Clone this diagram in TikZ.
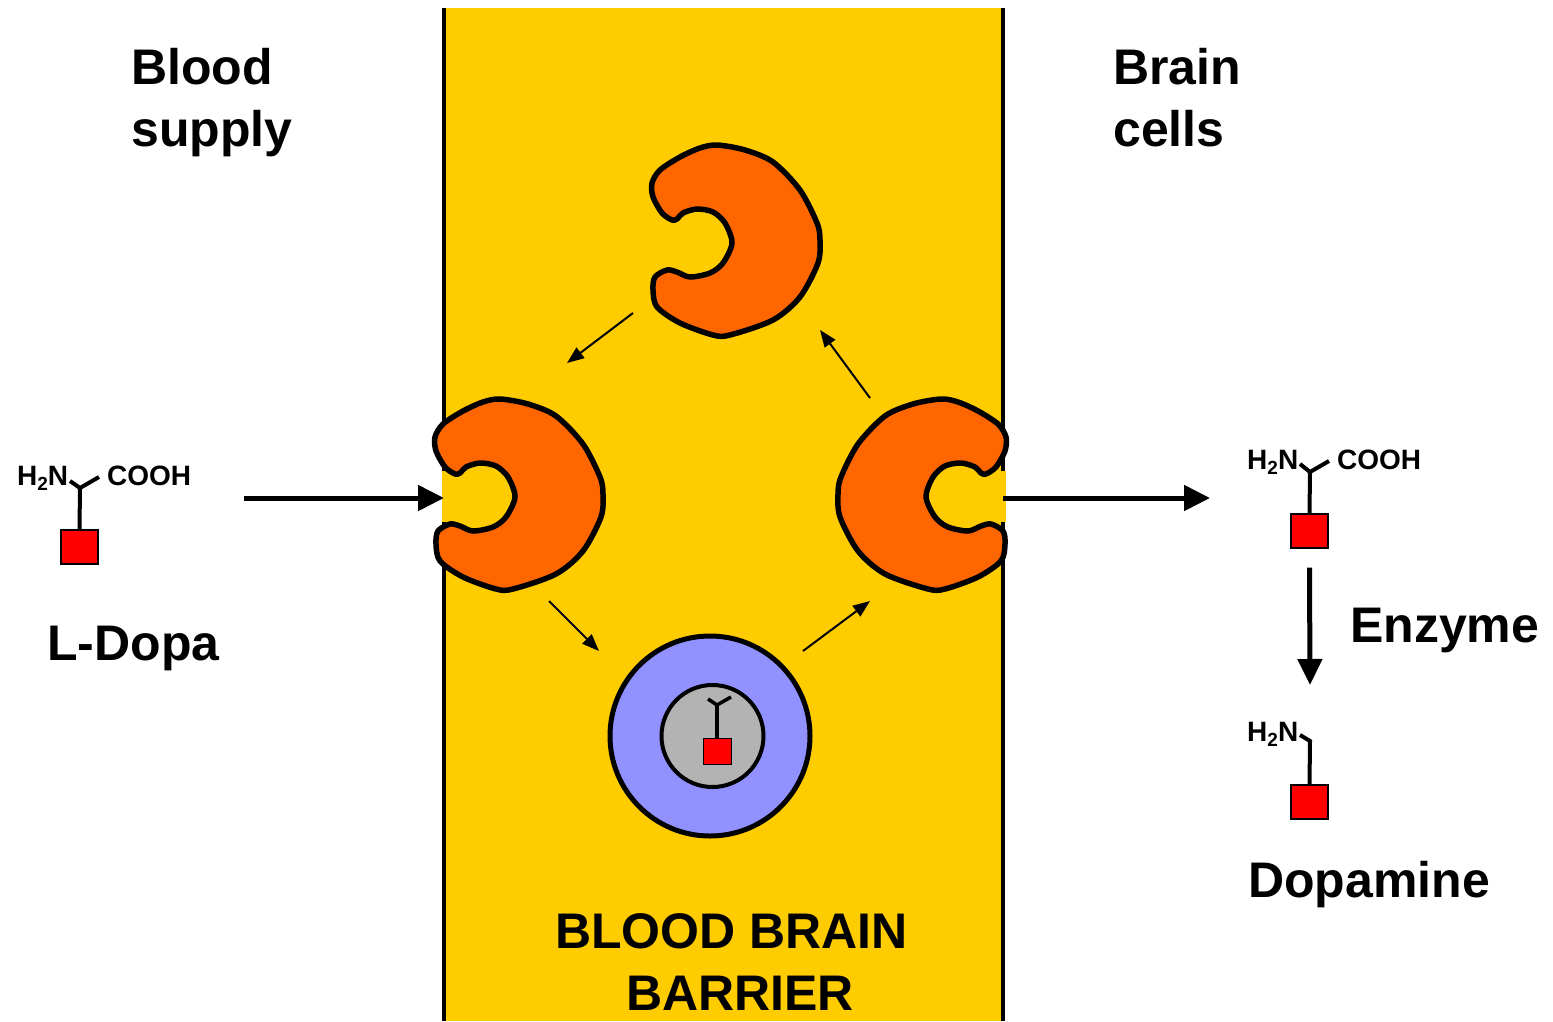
\documentclass[tikz,border=0pt]{standalone}
\usepackage{fontspec}
\setmainfont{Liberation Sans}
\usetikzlibrary{arrows.meta}
\definecolor{barrierfill}{HTML}{FFCC00}
\definecolor{carrierfill}{HTML}{FF6600}
\definecolor{vesiclefill}{HTML}{9191FF}
\definecolor{corefill}{HTML}{B3B3B3}
\definecolor{ringfill}{HTML}{FF0000}
\newcommand\subtwo{\raisebox{-5pt}{\fontsize{19}{19}\selectfont 2}}
\begin{document}
\begin{tikzpicture}[x=1pt,y=-1pt,
  biglabel/.style={font=\fontsize{50}{62}\selectfont\bfseries, inner sep=0pt, anchor=base west},
  chem/.style={font=\fontsize{28}{30}\selectfont\bfseries, inner sep=0pt, anchor=base west},
  bond/.style={line width=4pt, line cap=butt, line join=miter},
  ringbox/.style={draw, fill=ringfill, line width=1.2pt, minimum width=37pt, minimum height=34pt, inner sep=0pt},
  wall/.style={line width=4.5pt},
  mainarrow/.style={line width=5pt, -{Triangle[length=26pt,width=25pt]}},
  cyclearrow/.style={line width=2pt, -{Triangle[length=17pt,width=13pt]}},
  carrier/.pic={
    \draw[line width=5.5pt, fill=carrierfill, line join=round]
      plot[smooth cycle, tension=0.5] coordinates {
        (12,-97) (40,-92) (68,-80) (95,-52) (112,-19) (115,-2) (113,21)
        (95,55) (68,78) (25,93) (8,93) (-25,81) (-48,65) (-52,48) (-50,35)
        (-38,28) (-28,30) (-15,35) (5,31) (18,21) (27,1) (20,-19) (8,-30)
        (-8,-33) (-22,-29) (-28,-23) (-33,-22) (-43,-29) (-52,-45) (-53,-59)
        (-45,-72) (-25,-85) (-5,-94)};
  }]
\useasboundingbox (0,0) rectangle (1553,1021);

% the barrier band and its two walls
\fill[barrierfill] (444,8) rectangle (1003,1021);
\draw[wall] (444,8) -- (444,1021);
\draw[wall] (1003,8) -- (1003,1021);
% open the walls inside the carrier mouths
\fill[barrierfill] (441.5,471) rectangle (446.5,522);
\fill[barrierfill] (1000.5,471) rectangle (1005.5,522);

% side headings
\node[biglabel] (blood1) at (131,84) {Blood};
\node[biglabel] (blood2) at (131,146) {supply};
\node[biglabel] (brain1) at (1113,84) {Brain};
\node[biglabel] (brain2) at (1113,146) {cells};

% carriers
\pic (carTop) at (705,242) {carrier};
\pic (carLeft) at (488,496) {carrier};
\pic[xscale=-1] (carRight) at (953,496) {carrier};

% vesicle with the drug inside
\node[circle, draw, line width=5pt, fill=vesiclefill, minimum size=200pt, inner sep=0pt] (vesicle) at (710,736) {};
\node[circle, draw, line width=4pt, fill=corefill, minimum size=102pt, inner sep=0pt] (core) at (712.5,736) {};
\node[ringbox, line width=1pt, minimum width=28pt, minimum height=26pt] (vRing) at (717,751) {};
\coordinate (vC) at (717,705);
\coordinate (vA) at (708,699);
\coordinate (vB) at (731,697);
\draw[line width=3.5pt] (vA) -- (vC) -- (vB);
\draw[line width=3.5pt] (vC) -- (vRing.north);

% carrier cycle arrows
\coordinate (c1s) at (633,313); \coordinate (c1e) at (567,363);
\coordinate (c2s) at (549,601); \coordinate (c2e) at (599,651);
\coordinate (c3s) at (803,651); \coordinate (c3e) at (870,601);
\coordinate (c4s) at (870,398); \coordinate (c4e) at (820,330);
\draw[cyclearrow] (c1s) -- (c1e);
\draw[cyclearrow] (c2s) -- (c2e);
\draw[cyclearrow] (c3s) -- (c3e);
\draw[cyclearrow] (c4s) -- (c4e);

% L-Dopa in the blood
\node[chem] (ldAmine) at (17,485) {H\subtwo N};
\node[chem] (ldAcid) at (107,485) {COOH};
\node[ringbox] (ldRing) at (79.5,547) {};
\coordinate (ldC) at (80,488);
\coordinate (ldA) at (70,481);
\coordinate (ldB) at (99,477);
\draw[bond] (ldA) -- (ldC) -- (ldB);
\draw[bond] (ldC) -- (ldRing.north);
\node[biglabel] (ldName) at (47,660) {L-Dopa};

% transport arrows
\coordinate (inStart) at (244,498);
\coordinate (inEnd) at (444,498);
\coordinate (outStart) at (1003,498);
\coordinate (outEnd) at (1210,498);
\draw[mainarrow] (inStart) -- (inEnd);
\draw[mainarrow] (outStart) -- (outEnd);

% L-Dopa in the brain
\node[chem] (bdAmine) at (1247,469) {H\subtwo N};
\node[chem] (bdAcid) at (1337,469) {COOH};
\node[ringbox] (bdRing) at (1309.5,531) {};
\coordinate (bdC) at (1310,472);
\coordinate (bdA) at (1300,464);
\coordinate (bdB) at (1329,461);
\draw[bond] (bdA) -- (bdC) -- (bdB);
\draw[bond] (bdC) -- (bdRing.north);

% conversion step
\draw[line width=5pt, -{Triangle[length=26pt,width=24pt]}] (bdRing.south) ++(0,19) coordinate (enzStart) -- (1310,685) coordinate (enzEnd);
\node[biglabel] (enzName) at (1350,642) {Enzyme};

% dopamine
\node[chem] (dpAmine) at (1247,741) {H\subtwo N};
\node[ringbox] (dpRing) at (1309.5,802) {};
\coordinate (dpA) at (1300,735);
\coordinate (dpC) at (1310,741);
\draw[bond] (dpA) -- (dpC) -- (dpRing.north);
\node[biglabel] (dpName) at (1248,897) {Dopamine};

% barrier caption
\node[biglabel, anchor=base] (bbb1) at (731.5,948) {BLOOD BRAIN};
\node[biglabel, anchor=base] (bbb2) at (740,1010) {BARRIER};
\end{tikzpicture}
\end{document}
